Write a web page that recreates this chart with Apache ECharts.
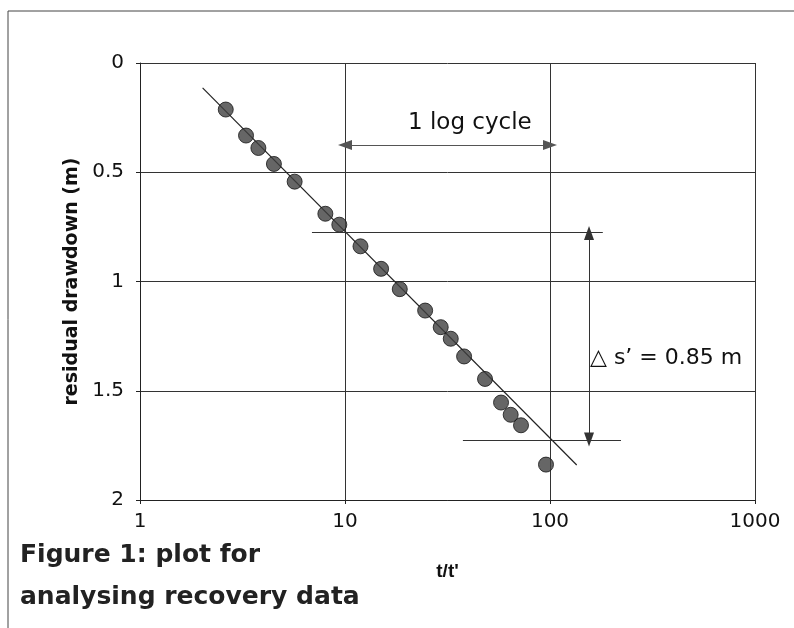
<!DOCTYPE html>
<html>
<head>
<meta charset="utf-8">
<script src="https://cdn.jsdelivr.net/npm/echarts@6/dist/echarts.min.js"></script>
<style>
  html, body { margin: 0; padding: 0; background: #fff; }
  #chart { width: 794px; height: 628px; }
</style>
</head>
<body>
<div id="chart"></div>
<script>
// recovery test: t/t' against residual drawdown
const tRatio = [2.62, 3.29, 3.78, 4.50, 5.68, 8.02, 9.38, 11.9, 15.0, 18.5, 24.6, 29.3, 32.8, 38.1, 48.2, 57.7, 64.3, 72.2, 95.6]
const drawdown = [0.213, 0.332, 0.389, 0.462, 0.543, 0.690, 0.740, 0.839, 0.942, 1.035, 1.133, 1.209, 1.262, 1.343, 1.446, 1.554, 1.610, 1.658, 1.838]

// straight line drawn through the points
const fitX = [2.02, 135]
const fitY = [0.114, 1.84]

// construction lines for reading the slope
const logCycle = [10, 100]
const logCycleY = 0.375
const upperRead = { y: 0.773, from: 6.9, to: 181 }
const lowerRead = { y: 1.728, from: 37.6, to: 222 }
const deltaX = 155

const yTicks = [0, 0.5, 1, 1.5, 2]

const ink = '#222'
const font = 'DejaVu Sans'

const chart = echarts.init(document.getElementById('chart'))

const option = {
  animation: false,
  backgroundColor: '#fff',
  grid: {
    left: 140,
    right: 39,
    top: 63,
    bottom: 128
  },
  xAxis: {
    type: 'log',
    logBase: 10,
    min: 1,
    max: 1000,
    name: "t/t'",
    nameLocation: 'middle',
    nameGap: 62,
    nameTextStyle: { fontFamily: 'Liberation Sans', fontWeight: 'bold', fontSize: 19, color: '#111' },
    axisLine: { onZero: false, lineStyle: { color: ink, width: 1 } },
    axisTick: { show: true, length: 4, lineStyle: { color: ink } },
    minorTick: { show: false },
    axisLabel: {
      fontFamily: font,
      fontSize: 20,
      color: '#111',
      margin: 12,
      formatter: (v) => String(Math.round(v))
    },
    splitLine: { show: true, lineStyle: { color: '#333', width: 1 } }
  },
  yAxis: {
    type: 'value',
    inverse: true,
    min: yTicks[0],
    max: yTicks[yTicks.length - 1],
    interval: 0.5,
    name: 'residual drawdown (m)',
    nameLocation: 'middle',
    nameGap: 50,
    nameTextStyle: { fontFamily: font, fontWeight: 'bold', fontSize: 19, color: '#111' },
    axisLine: { show: true, lineStyle: { color: ink, width: 1 } },
    axisTick: { show: true, length: 4, lineStyle: { color: ink } },
    axisLabel: { fontFamily: font, fontSize: 20, color: '#111', margin: 16 },
    splitLine: { show: true, lineStyle: { color: '#333', width: 1 } }
  },
  series: [
    {
      name: 'fit',
      type: 'line',
      data: fitX.map((x, i) => [x, fitY[i]]),
      symbol: 'none',
      lineStyle: { color: ink, width: 1.2 },
      z: 3
    },
    {
      name: 'drawdown',
      type: 'scatter',
      data: tRatio.map((x, i) => [x, drawdown[i]]),
      symbol: 'circle',
      symbolSize: 15,
      itemStyle: { color: '#404040', borderColor: '#151515', borderWidth: 1 },
      z: 4
    },
    {
      name: 'reading lines',
      type: 'line',
      data: [],
      markLine: {
        silent: true,
        symbol: 'none',
        label: { show: false },
        lineStyle: { color: '#333', width: 1, type: 'solid' },
        data: [
          [{ coord: [upperRead.from, upperRead.y] }, { coord: [upperRead.to, upperRead.y] }],
          [{ coord: [lowerRead.from, lowerRead.y] }, { coord: [lowerRead.to, lowerRead.y] }]
        ]
      }
    },
    {
      name: 'log cycle',
      type: 'line',
      data: [],
      markLine: {
        silent: true,
        symbol: ['triangle', 'triangle'],
        symbolSize: [10, 14],
        label: { show: false },
        lineStyle: { color: '#555', width: 1, type: 'solid' },
        data: [
          [{ coord: [logCycle[0], logCycleY] }, { coord: [logCycle[1], logCycleY] }]
        ]
      }
    },
    {
      name: 'delta s',
      type: 'line',
      data: [],
      markLine: {
        silent: true,
        symbol: ['triangle', 'triangle'],
        symbolSize: [10, 14],
        label: { show: false },
        lineStyle: { color: '#333', width: 1, type: 'solid' },
        data: [
          [{ coord: [deltaX, upperRead.y + 0.005] }, { coord: [deltaX, lowerRead.y - 0.005] }]
        ]
      }
    }
  ],
  graphic: [
    // scanned page frame
    { type: 'line', shape: { x1: 8, y1: 11, x2: 794, y2: 11 }, style: { stroke: '#444', lineWidth: 1 } },
    { type: 'line', shape: { x1: 8, y1: 11, x2: 8, y2: 628 }, style: { stroke: '#444', lineWidth: 1 } },
    {
      type: 'text', left: 408, top: 112,
      style: { text: '1 log cycle', font: '23px "DejaVu Sans"', fill: '#111' }
    },
    {
      type: 'text', left: 590, top: 347,
      style: { text: '\u25B3 s\u2019 = 0.85 m', font: '22px "DejaVu Sans"', fill: '#111' }
    },
    {
      type: 'text', left: 20, top: 534,
      style: {
        text: 'Figure 1: plot for\nanalysing recovery data',
        font: 'bold 25px "DejaVu Sans"',
        lineHeight: 42,
        fill: '#222'
      }
    }
  ]
}

chart.setOption(option)
</script>
</body>
</html>
